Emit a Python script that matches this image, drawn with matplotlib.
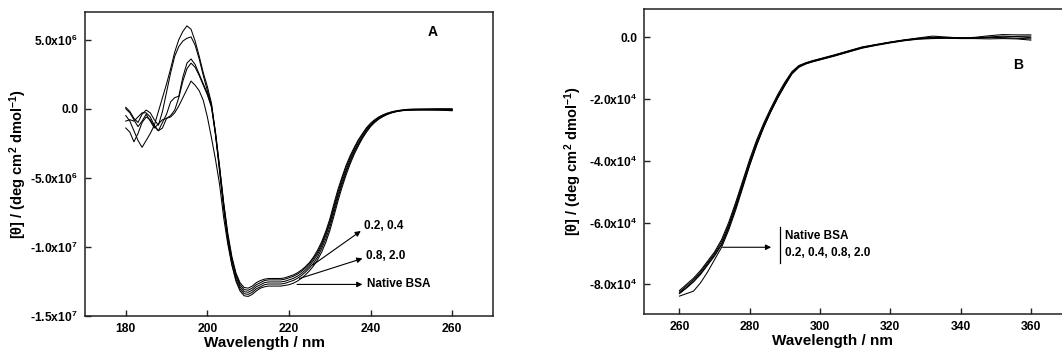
import numpy as np
import matplotlib
matplotlib.use("Agg")
import matplotlib.pyplot as plt

plt.rcParams['font.family'] = ['Liberation Sans', 'DejaVu Sans']
plt.rcParams['font.weight'] = 'bold'
plt.rcParams['mathtext.fontset'] = 'custom'
plt.rcParams['mathtext.rm'] = 'Liberation Sans:bold'
plt.rcParams['mathtext.it'] = 'Liberation Sans:bold'
plt.rcParams['mathtext.bf'] = 'Liberation Sans:bold'

# ---------------- Panel A (far-UV CD), values in units of 1e6 ----------------
wl_a = list(range(180, 251)) + [252, 254, 256, 258, 260]

cd_native = [-0.5, -0.9, -1.6, -2.3, -2.8, -2.3, -1.8, -1.2, -0.2, 0.8,
             1.8, 2.9, 4.1, 5.0, 5.6, 6.0, 5.75, 4.9, 3.8, 2.6,
             1.6, 0.4, -1.9, -4.6, -7.3, -9.6, -11.3, -12.5, -13.2, -13.55,
             -13.6, -13.45, -13.2, -13.0, -12.9, -12.85, -12.85, -12.85, -12.85, -12.8,
             -12.75, -12.65, -12.5, -12.3, -12.05, -11.75, -11.4, -10.95, -10.4, -9.7,
             -8.85, -7.8, -6.7, -5.7, -4.8, -4.0, -3.3, -2.7, -2.15, -1.7,
             -1.3, -1.0, -0.76, -0.58, -0.43, -0.32, -0.24, -0.18, -0.14, -0.12,
             -0.11, -0.1, -0.1, -0.1, -0.12, -0.15]

cd_02 = [0.1, -0.2, -0.7, -1.0, -0.4, -0.1, -0.3, -0.8, -1.2, -0.2,
         1.2, 2.6, 3.8, 4.5, 4.9, 5.1, 5.2, 4.6, 3.6, 2.4,
         1.3, 0.3, -1.7, -4.2, -6.8, -9.0, -10.7, -11.9, -12.6, -12.95,
         -13.0, -12.85, -12.6, -12.45, -12.35, -12.3, -12.3, -12.3, -12.3, -12.25,
         -12.15, -12.05, -11.9, -11.7, -11.45, -11.15, -10.75, -10.25, -9.65, -8.9,
         -8.0, -6.9, -5.85, -4.95, -4.1, -3.4, -2.8, -2.25, -1.8, -1.38,
         -1.05, -0.8, -0.6, -0.45, -0.33, -0.24, -0.17, -0.12, -0.08, -0.05,
         -0.03, -0.02, -0.01, 0.0, 0.0, 0.0]

cd_04 = [-1.4, -1.7, -2.4, -1.8, -1.0, -0.6, -0.8, -1.3, -1.6, -1.0,
         -0.4, 0.5, 0.8, 0.9, 2.3, 3.3, 3.6, 3.2, 2.5, 1.8,
         1.1, 0.2, -1.8, -4.3, -6.9, -9.2, -10.85, -12.0, -12.75, -13.1,
         -13.15, -13.0, -12.75, -12.6, -12.45, -12.4, -12.4, -12.4, -12.4, -12.35,
         -12.25, -12.15, -12.0, -11.8, -11.55, -11.25, -10.85, -10.4, -9.8, -9.05,
         -8.2, -7.1, -6.05, -5.1, -4.25, -3.55, -2.9, -2.35, -1.88, -1.45,
         -1.1, -0.85, -0.64, -0.48, -0.36, -0.26, -0.19, -0.14, -0.1, -0.08,
         -0.06, -0.05, -0.05, -0.05, -0.05, -0.06]

cd_08 = [-0.9, -0.8, -0.9, -0.6, -0.3, -0.3, -0.6, -1.2, -1.6, -1.4,
         -0.7, -0.5, -0.1, 0.8, 2.0, 2.9, 3.3, 3.0, 2.4, 1.7,
         1.0, 0.1, -1.9, -4.4, -7.0, -9.3, -11.0, -12.15, -12.9, -13.25,
         -13.3, -13.15, -12.9, -12.75, -12.6, -12.55, -12.55, -12.55, -12.55, -12.5,
         -12.4, -12.3, -12.15, -11.95, -11.7, -11.4, -11.0, -10.55, -9.95, -9.2,
         -8.35, -7.3, -6.25, -5.3, -4.45, -3.7, -3.05, -2.5, -2.0, -1.55,
         -1.2, -0.92, -0.7, -0.53, -0.4, -0.3, -0.22, -0.16, -0.12, -0.1,
         -0.08, -0.07, -0.07, -0.07, -0.08, -0.09]

cd_20 = [0.0, -0.3, -0.8, -1.3, -0.9, -0.4, -0.9, -1.4, -1.1, -0.8,
         -0.7, -0.6, -0.3, 0.2, 0.8, 1.4, 2.0, 1.7, 1.3, 0.6,
         -0.6, -2.1, -3.7, -5.5, -7.9, -9.8, -11.3, -12.35, -13.05, -13.4,
         -13.45, -13.3, -13.05, -12.9, -12.75, -12.7, -12.7, -12.7, -12.7, -12.65,
         -12.55, -12.45, -12.3, -12.1, -11.85, -11.55, -11.2, -10.75, -10.15, -9.45,
         -8.6, -7.55, -6.45, -5.5, -4.6, -3.85, -3.15, -2.6, -2.08, -1.62,
         -1.25, -0.96, -0.73, -0.55, -0.41, -0.3, -0.22, -0.16, -0.12, -0.1,
         -0.09, -0.08, -0.08, -0.09, -0.1, -0.12]

a_yticks = [5e6, 0, -5e6, -1e7, -1.5e7]
a_yticklabels = ['5.0x10$^6$', '0.0', '-5.0x10$^6$', '-1.0x10$^7$', '-1.5x10$^7$']
a_xticks = [180, 200, 220, 240, 260]

# ---------------- Panel B (near-UV CD), values in units of 1e4 ----------------
wl_b = list(range(260, 301, 2)) + list(range(304, 361, 4))

b_native = [-8.2, -8.0, -7.8, -7.55, -7.25, -6.95, -6.55, -6.0, -5.35, -4.65,
            -3.95, -3.32, -2.78, -2.3, -1.85, -1.46, -1.12, -0.92, -0.83, -0.76,
            -0.7, -0.58, -0.45, -0.32, -0.24, -0.16, -0.09, -0.03, 0.03, 0.0,
            -0.03, -0.01, 0.04, 0.08, 0.07, 0.07]
b_02 = [-8.28, -8.1, -7.9, -7.65, -7.35, -7.05, -6.7, -6.15, -5.5, -4.8,
        -4.1, -3.45, -2.9, -2.4, -1.95, -1.55, -1.18, -0.96, -0.86, -0.79,
        -0.73, -0.61, -0.48, -0.35, -0.26, -0.18, -0.11, -0.06, -0.03, -0.02,
        -0.03, -0.04, -0.02, 0.0, 0.02, 0.03]
b_04 = [-8.38, -8.3, -8.22, -7.95, -7.6, -7.2, -6.8, -6.25, -5.6, -4.88,
        -4.15, -3.5, -2.92, -2.42, -1.97, -1.57, -1.2, -0.98, -0.87, -0.8,
        -0.74, -0.62, -0.49, -0.36, -0.27, -0.19, -0.12, -0.07, -0.05, -0.04,
        -0.05, -0.05, -0.06, -0.05, -0.06, -0.1]
b_08 = [-8.25, -8.05, -7.85, -7.6, -7.3, -7.0, -6.62, -6.08, -5.42, -4.72,
        -4.02, -3.38, -2.84, -2.35, -1.9, -1.5, -1.15, -0.94, -0.84, -0.77,
        -0.71, -0.59, -0.46, -0.33, -0.25, -0.17, -0.1, -0.04, -0.01, -0.02,
        -0.02, -0.03, 0.0, 0.03, 0.01, -0.02]
b_20 = [-8.3, -8.12, -7.92, -7.68, -7.38, -7.08, -6.72, -6.18, -5.52, -4.82,
        -4.12, -3.47, -2.9, -2.4, -1.95, -1.54, -1.17, -0.95, -0.85, -0.78,
        -0.72, -0.6, -0.47, -0.34, -0.25, -0.17, -0.1, -0.05, -0.02, -0.03,
        -0.04, -0.03, -0.01, -0.02, -0.04, -0.06]

b_yticks = [0, -2e4, -4e4, -6e4, -8e4]
b_yticklabels = ['0.0', '-2.0x10$^4$', '-4.0x10$^4$', '-6.0x10$^4$', '-8.0x10$^4$']
b_xticks = [260, 280, 300, 320, 340, 360]

ylabel_text = '[θ] / (deg cm$^2$ dmol$^{-1}$)'
xlabel_text = 'Wavelength / nm'

fig = plt.figure(figsize=(10.62, 3.54), dpi=100)
axA = fig.add_axes([0.080, 0.108, 0.3842, 0.858])
axB = fig.add_axes([0.6067, 0.112, 0.397, 0.8625])

def style(ax):
    for s in ax.spines.values():
        s.set_linewidth(1.1)
        s.set_color('#222222')
    ax.tick_params(direction='in', length=4, width=1.0, labelsize=8.7, pad=5,
                   color='#222222')
    for t in ax.get_xticklabels() + ax.get_yticklabels():
        t.set_fontweight('bold')

# Panel A
for ser in [cd_native, cd_02, cd_04, cd_08, cd_20]:
    axA.plot(wl_a, np.array(ser) * 1e6, color='black', lw=0.75)
axA.set_xlim(170, 270)
axA.set_ylim(-1.5e7, 7e6)
axA.set_xticks(a_xticks)
axA.set_xticklabels([str(v) for v in a_xticks])
axA.set_yticks(a_yticks)
axA.set_yticklabels(a_yticklabels)
style(axA)
axA.set_ylabel(ylabel_text, fontsize=10.5, fontweight='bold')
axA.yaxis.set_label_coords(-0.138, 0.5)
axA.set_xlabel(xlabel_text, fontsize=11, fontweight='bold')
axA.xaxis.set_label_coords(0.441, -0.066)
axA.text(255.1, 5.53e6, 'A', fontsize=10, fontweight='bold', ha='center', va='center')

arrow_kw = dict(arrowstyle='-|>', color='black', lw=0.8, mutation_scale=8,
                shrinkA=0, shrinkB=0)
axA.annotate('', xy=(237.6, -8.86e6), xytext=(225.8, -11.33e6), arrowprops=arrow_kw)
axA.annotate('', xy=(238.0, -10.85e6), xytext=(222.6, -12.3e6), arrowprops=arrow_kw)
axA.annotate('', xy=(238.0, -12.73e6), xytext=(222.0, -12.73e6), arrowprops=arrow_kw)
axA.text(238.4, -8.48e6, '0.2, 0.4', fontsize=8.5, fontweight='bold', va='center', ha='left')
axA.text(238.8, -10.68e6, '0.8, 2.0', fontsize=8.5, fontweight='bold', va='center', ha='left')
axA.text(239.2, -12.73e6, 'Native BSA', fontsize=8.5, fontweight='bold', va='center', ha='left')

# Panel B
for ser in [b_native, b_02, b_04, b_08, b_20]:
    axB.plot(wl_b, np.array(ser) * 1e4, color='black', lw=0.75)
axB.set_xlim(250, 370)
axB.set_ylim(-8.97e4, 0.906e4)
axB.set_xticks(b_xticks)
axB.set_xticklabels([str(v) for v in b_xticks])
axB.set_yticks(b_yticks)
axB.set_yticklabels(b_yticklabels)
style(axB)
axB.set_ylabel(ylabel_text, fontsize=10.5, fontweight='bold')
axB.yaxis.set_label_coords(-0.142, 0.5)
axB.set_xlabel(xlabel_text, fontsize=11, fontweight='bold')
axB.xaxis.set_label_coords(0.447, -0.064)
axB.text(356.4, -0.906e4, 'B', fontsize=10, fontweight='bold', ha='center', va='center')

axB.annotate('', xy=(286.1, -6.8e4), xytext=(272.3, -6.8e4), arrowprops=arrow_kw)
axB.plot([288.7, 288.7], [-6.13e4, -7.32e4], color='black', lw=0.9)
axB.text(289.9, -6.44e4, 'Native BSA', fontsize=8.5, fontweight='bold', va='center', ha='left')
axB.text(289.9, -6.97e4, '0.2, 0.4, 0.8, 2.0', fontsize=8.5, fontweight='bold', va='center', ha='left')

fig.savefig('out.png', dpi=100)
